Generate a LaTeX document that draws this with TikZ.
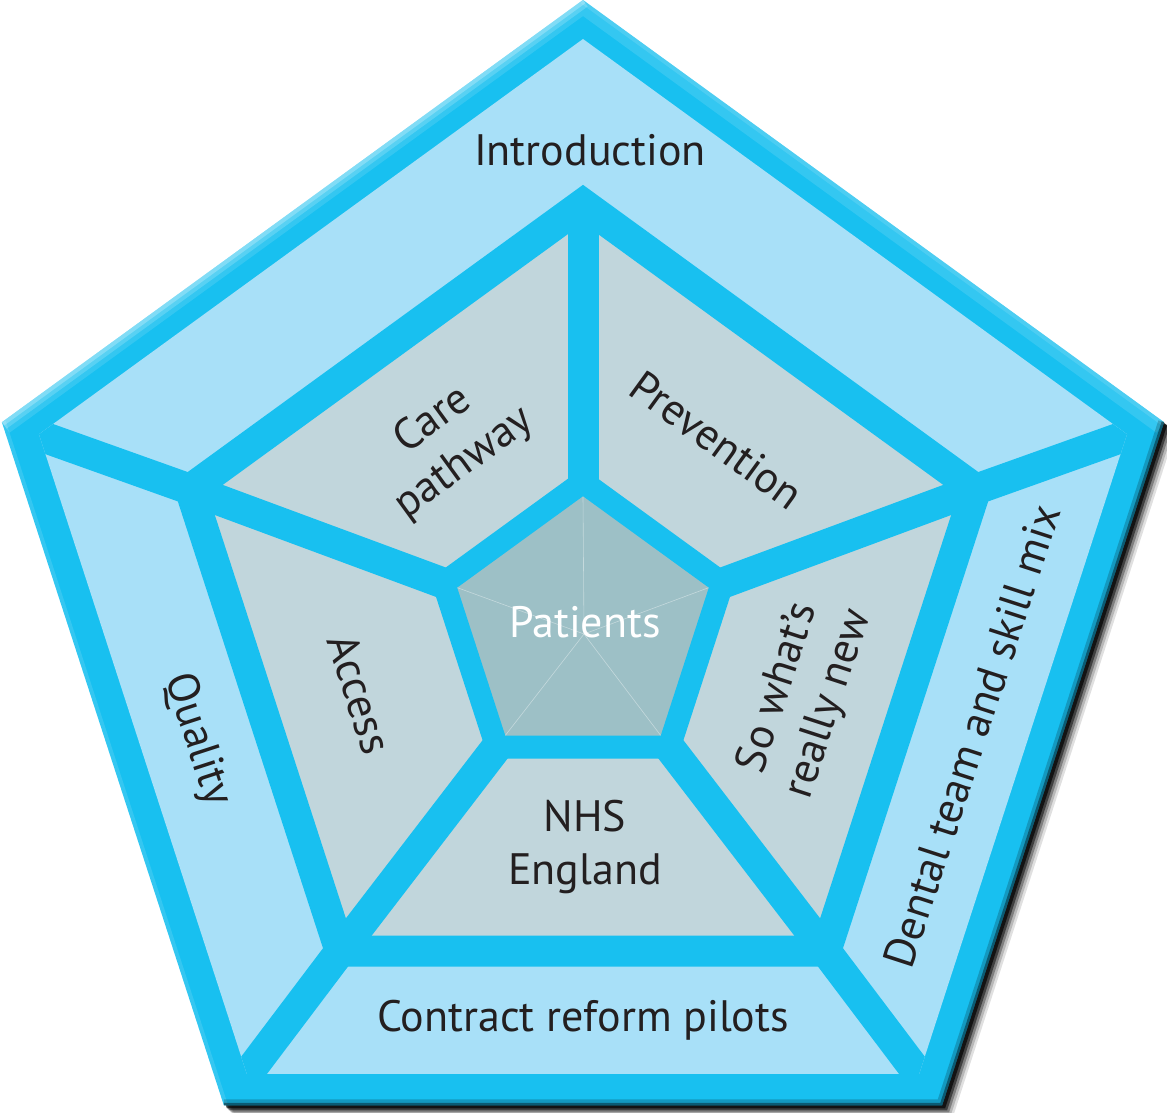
\documentclass[tikz,border=0pt]{standalone}
\usepackage{fontspec}
\setmainfont{PT Sans}
\usetikzlibrary{calc}

\definecolor{bandblue}{RGB}{24,192,240}
\definecolor{outerfill}{RGB}{168,224,248}
\definecolor{midfill}{RGB}{193,214,220}
\definecolor{corefill}{RGB}{157,192,198}
\definecolor{ink}{RGB}{35,31,32}

\begin{document}
\begin{tikzpicture}[x=1pt,y=1pt,
		band/.style={draw=bandblue, line width=31pt, line join=miter, miter limit=4},
		label/.style={font=\fontsize{44}{53}\selectfont, text=ink, align=center, inner sep=0pt}]
		\useasboundingbox (0,0) rectangle (1167,-1113);
		
		% Corners of the pentagons
		\foreach \i/\a in {1/90,2/162,3/234,4/306,5/18}{
			\coordinate (o\i) at ($(583,-611)+(\a:611)$);
			\coordinate (l\i) at ($(583,-611)+(\a:572)$);
			\coordinate (m\i) at ($(583,-617)+(\a:413)$);
			\coordinate (p\i) at ($(583,-628.5)+(\a:146.5)$);
			\coordinate (q\i) at ($(583,-628.5)+(\a:132)$);
		}
		\coordinate (core) at (584,-634);
		
		% Soft shadow
		\foreach \d/\op in {11/0.12,9/0.18,7/0.3,5/0.5,3/0.7}{
			\fill[black, opacity=\op, shift={(583+\d,-611-\d)}] (90:611) -- (162:611) -- (234:611) -- (306:611) -- (18:611) -- cycle;
		}
		
		% Outer frame
		\fill[bandblue] (o1) -- (o2) -- (o3) -- (o4) -- (o5) -- cycle;
		\begin{scope}
			\clip (o1) -- (o2) -- (o3) -- (o4) -- (o5) -- cycle;
			% light bevel on the upper edges
			\draw[white, opacity=0.12, line width=26pt] (o2) -- (o1) -- (o5);
			\draw[white, opacity=0.18, line width=16pt] (o2) -- (o1);
			\draw[white, opacity=0.25, line width=8pt] (o2) -- (o1);
			\draw[white, opacity=0.12, line width=8pt] (o1) -- (o5) (o3) -- (o2);
			% dark bevel on the lower edges
			\draw[black, opacity=0.2, line width=12pt] (o5) -- (o4) -- (o3);
			\draw[black, opacity=0.4, line width=5pt] (o5) -- (o4) -- (o3);
		\end{scope}
		
		% Regions
		\fill[outerfill] (l1) -- (l2) -- (l3) -- (l4) -- (l5) -- cycle;
		\fill[midfill] (m1) -- (m2) -- (m3) -- (m4) -- (m5) -- cycle;
		\fill[corefill] (p1) -- (p2) -- (p3) -- (p4) -- (p5) -- cycle;
		
		% Spokes
		\begin{scope}
			\clip (l1) -- (l2) -- (l3) -- (l4) -- (l5) -- cycle;
			\draw[band] (o2) -- (m2);
			\draw[band] (o3) -- (m3);
			\draw[band] (o4) -- (m4);
			\draw[band] (o5) -- (m5);
		\end{scope}
		\draw[band] (m1) -- (p1);
		\draw[band] (m2) -- (p2);
		\draw[band] (m3) -- (p3);
		\draw[band] (m4) -- (p4);
		\draw[band] (m5) -- (p5);
		
		% Pentagon bands
		\draw[band] (m1) -- (m2) -- (m3) -- (m4) -- (m5) -- cycle;
		\draw[band, line width=23pt] (p1) -- (p2) -- (p3) -- (p4) -- (p5) -- cycle;
		
		% Thin lines in the core
		\draw[white, opacity=0.4, line width=0.6pt] (q1) -- (core) -- (q2) (q3) -- (core) -- (q4) (q5) -- (core);
		
		% Labels
		\node[label] (intro) at (590,-150) {Introduction};
		\node[label, rotate=36] (care) at (449,-442) {Care\\pathway};
		\node[label, rotate=-36] (prev) at (717,-440) {Prevention};
		\node[label, rotate=-72] (access) at (360,-694) {Access};
		\node[label, rotate=72] (sowhat) at (804,-696) {So what’s\\really new};
		\node[label] (nhs) at (585,-847) {NHS\\England};
		\node[label, rotate=-72] (quality) at (197,-740) {Quality};
		\node[label, rotate=72] (dental) at (972,-736) {Dental team and skill mix};
		\node[label] (contract) at (583,-1020) {Contract reform pilots};
		\node[label, text=white] (patients) at (585,-622) {Patients};
		
\end{tikzpicture}
\end{document}
